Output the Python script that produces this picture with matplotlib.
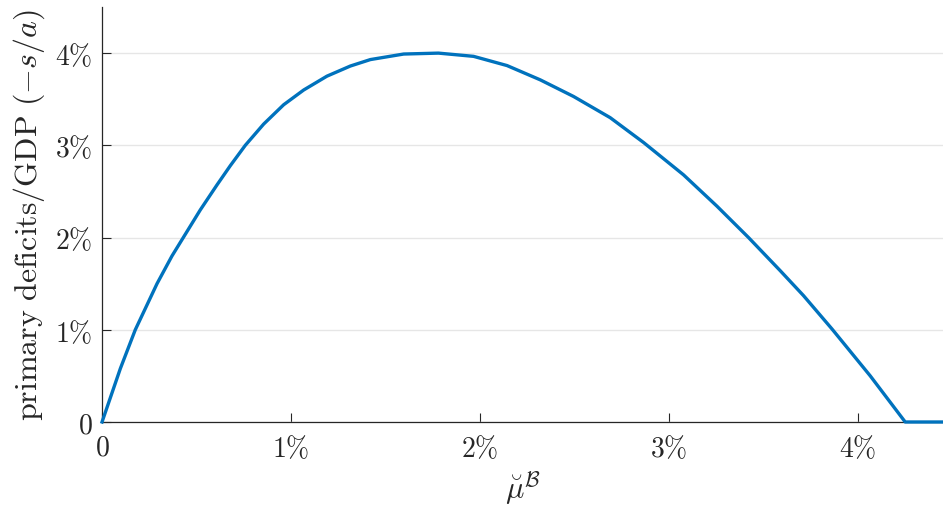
import matplotlib
matplotlib.use("Agg")
import matplotlib.pyplot as plt

plt.rcParams["mathtext.fontset"] = "cm"
plt.rcParams["font.family"] = "serif"
plt.rcParams["font.serif"] = ["cmr10", "DejaVu Serif"]
plt.rcParams["axes.unicode_minus"] = False

# debt growth rate mu (in %) vs primary deficits/GDP (in %)
mu_pct = [0, 0.097, 0.176, 0.291, 0.370, 0.43, 0.520, 0.608, 0.679, 0.758,
          0.855, 0.961, 1.067, 1.190, 1.314, 1.42, 1.596, 1.78, 1.966, 2.143,
          2.319, 2.495, 2.689, 2.866, 3.077, 3.254, 3.421, 3.589, 3.712,
          3.862, 4.065, 4.25, 4.45]
deficit_pct = [0, 0.58, 1.0, 1.50, 1.80, 2.0, 2.30, 2.57, 2.78, 3.0,
               3.23, 3.44, 3.60, 3.75, 3.86, 3.93, 3.99, 4.0, 3.965, 3.865,
               3.71, 3.53, 3.30, 3.03, 2.68, 2.34, 2.0, 1.64, 1.37,
               1.01, 0.5, 0, 0]

x_ticks = [0, 1, 2, 3, 4]
x_ticklabels = [r"$0$", r"$1\%$", r"$2\%$", r"$3\%$", r"$4\%$"]
y_ticks = [0, 1, 2, 3, 4]
y_ticklabels = [r"$0$", r"$1\%$", r"$2\%$", r"$3\%$", r"$4\%$"]

fig = plt.figure(figsize=(9.43, 5.10), dpi=100)
ax = fig.add_axes([0.1082, 0.1706, 0.8918, 0.8137])

ax.plot(mu_pct, deficit_pct, color="#0072BD", lw=2.4, clip_on=False, zorder=3)

ax.set_xlim(0, 4.45)
ax.set_ylim(0, 4.5)
ax.set_xticks(x_ticks)
ax.set_xticklabels(x_ticklabels)
ax.set_yticks(y_ticks)
ax.set_yticklabels(y_ticklabels)

ax.spines["top"].set_visible(False)
ax.spines["right"].set_visible(False)
for s in ["left", "bottom"]:
    ax.spines[s].set_color("#262626")
    ax.spines[s].set_linewidth(0.9)

ax.tick_params(direction="in", length=6.5, width=0.8, colors="#262626",
               labelsize=20, labelcolor="#262626")
ax.tick_params(axis="x", pad=9)
ax.tick_params(axis="y", pad=7)
ax.yaxis.grid(True, color="#e6e6e6", lw=1.0)
ax.set_axisbelow(True)

ax.set_ylabel(r"$\mathrm{primary\ deficits/GDP}\ (-s/a)$", fontsize=23,
              color="#262626", labelpad=6)
ax.set_xlabel(r"$\breve{\mu}^{\mathcal{B}}$", fontsize=22, color="#262626",
              labelpad=4)

fig.savefig("out.png", dpi=100)
